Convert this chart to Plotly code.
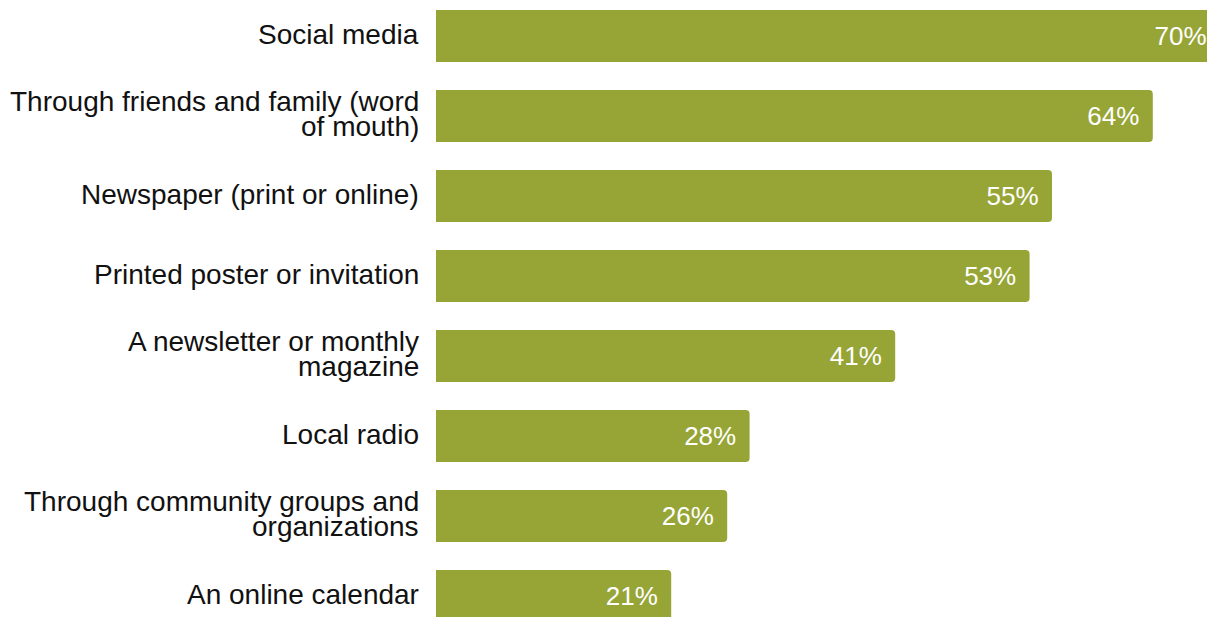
import plotly.graph_objects as go

# Survey: how people hear about local events
categories = [
    "Social media",
    "Through friends and family (word<br>of mouth)",
    "Newspaper (print or online)",
    "Printed poster or invitation",
    "A newsletter or monthly<br>magazine",
    "Local radio",
    "Through community groups and<br>organizations",
    "An online calendar",
]
shares = [70, 64, 55, 53, 41, 28, 26, 21]
# non-breaking spaces keep the value labels clear of the bar ends
share_labels = [f"{v}%\u00a0\u200a" for v in shares]

BAR_COLOR = "#96a536"
FONT = "Liberation Sans, Arial, sans-serif"
LABEL_SIZE = 28
LINE_STEP = 25.5

fig = go.Figure(
    go.Bar(
        x=shares,
        y=categories,
        orientation="h",
        width=0.65,
        marker=dict(color=BAR_COLOR, line=dict(width=0)),
        text=share_labels,
        textposition="inside",
        insidetextanchor="end",
        textfont=dict(family=FONT, size=26, color="white"),
        hoverinfo="skip",
    )
)

# category labels, one annotation per line so the wrapped labels stay tight
annotations = []
for cat in categories:
    lines = cat.split("<br>")
    n = len(lines)
    for j, line in enumerate(lines):
        annotations.append(
            dict(
                text=line,
                xref="paper",
                x=0,
                xanchor="right",
                xshift=-15,
                yref="y",
                y=cat,
                yanchor="middle",
                yshift=((n - 1) / 2 - j) * LINE_STEP + 2,
                showarrow=False,
                font=dict(family=FONT, size=LABEL_SIZE, color="#111111"),
            )
        )

fig.update_layout(
    width=1207,
    height=617,
    margin=dict(l=436, r=0, t=0, b=0),
    paper_bgcolor="white",
    plot_bgcolor="white",
    barcornerradius=4,
    showlegend=False,
    font=dict(family=FONT, size=LABEL_SIZE, color="#111111"),
    uniformtext=dict(mode="show", minsize=26),
    annotations=annotations,
)
fig.update_xaxes(
    range=[0, 68.84],
    showgrid=False,
    zeroline=False,
    showticklabels=False,
    showline=False,
)
fig.update_yaxes(
    categoryorder="array",
    categoryarray=categories,
    range=[7.2625, -0.45],
    showgrid=False,
    zeroline=False,
    showline=False,
    ticks="",
    showticklabels=False,
)

fig.write_html("out.html")
